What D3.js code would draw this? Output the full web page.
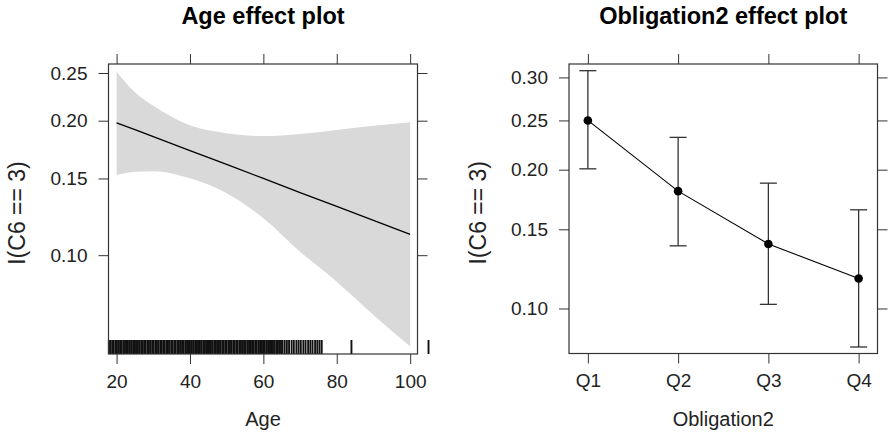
<!DOCTYPE html>
<html>
<head>
<meta charset="utf-8">
<script src="https://cdn.jsdelivr.net/npm/d3@7"></script>
<style>
  body { margin: 0; background: #fff; }
  svg { font-family: "Liberation Sans", Arial, sans-serif; }
</style>
</head>
<body>
<div id="chart"></div>
<script>
// Age effect: fitted probability and 95% band
const ages = [20, 25, 30, 40, 50, 60, 70, 80, 90, 100];
const ageFit = [0.198, 0.1915, 0.1851, 0.1727, 0.1611, 0.150, 0.1395, 0.1298, 0.1205, 0.1119];
const ageUpper = [0.2515, 0.2288, 0.2148, 0.1956, 0.1882, 0.1856, 0.1875, 0.1912, 0.1952, 0.1985];
const ageLower = [0.1527, 0.1552, 0.1556, 0.1501, 0.139, 0.1219, 0.1019, 0.0865, 0.0719, 0.0602];
// observed (jittered) ages for the rug
const rugAges = [
  17.9, 18.3, 18.8, 19.2, 19.7, 20.1, 20.6, 21.0, 21.4, 21.9, 22.3, 22.8, 23.1, 23.6, 24.0,
  24.5, 24.9, 25.3, 25.8, 26.2, 26.7, 27.0, 27.5, 27.9, 28.4, 28.8, 29.2, 29.7, 30.1, 30.6,
  31.0, 31.4, 31.9, 32.2, 32.7, 33.1, 33.6, 34.0, 34.4, 34.9, 35.3, 35.8, 36.1, 36.6, 37.0,
  37.5, 37.9, 38.3, 38.8, 39.2, 39.7, 40.0, 40.5, 40.9, 41.4, 41.8, 42.2, 42.7, 43.1, 43.6,
  44.0, 44.4, 44.9, 45.2, 45.7, 46.1, 46.6, 47.0, 47.4, 47.9, 48.3, 48.8, 49.1, 49.6, 50.0,
  50.5, 50.9, 51.3, 51.8, 52.2, 52.7, 53.0, 53.5, 53.9, 54.4, 54.8, 55.2, 55.7, 56.1, 56.6,
  57.0, 57.4, 57.9, 58.2, 58.7, 59.1, 59.6, 60.0, 60.4, 60.9, 61.3, 61.8, 62.1, 62.6, 63.0,
  63.5, 63.9, 64.3, 64.8, 65.2, 65.8, 66.4, 67.0, 67.7, 68.3, 69.0, 69.6, 70.2, 70.9, 71.5,
  72.2, 72.8, 73.4, 74.1, 74.7, 75.3, 75.9, 84, 105];
const ageTicks = [20, 40, 60, 80, 100];

// Obligation2 effect
const obligCats = ["Q1", "Q2", "Q3", "Q4"];
const obligFit = [0.25, 0.1807, 0.1394, 0.1169];
const obligUpper = [0.3083, 0.2319, 0.1877, 0.1651];
const obligLower = [0.2008, 0.1381, 0.1022, 0.0815];

const leftTicksY = [0.10, 0.15, 0.20, 0.25];
const rightTicksY = [0.10, 0.15, 0.20, 0.25, 0.30];

const width = 889;
const height = 436;
const logit = (p) => Math.log(p / (1 - p));
const fmt = d3.format(".2f");

const svg = d3.select("#chart").append("svg")
  .attr("width", width)
  .attr("height", height);

const tickLen = 10;
const tickCol = "#333";

function styleAxis(g, labels) {
  g.select(".domain").remove();
  g.selectAll(".tick line").attr("stroke", tickCol).attr("stroke-width", 1);
  g.selectAll(".tick text")
    .attr("fill", "#222")
    .style("font-size", "19px")
    .style("font-family", "'Liberation Sans', Arial, sans-serif");
  if (!labels) g.selectAll(".tick text").remove();
}

function frame(box, x, y, xTicks, yTicks, xFmt) {
  svg.append("g").attr("transform", `translate(0,${box.bottom})`)
    .call(d3.axisBottom(x).tickValues(xTicks).tickSize(tickLen).tickPadding(10.5).tickFormat(xFmt))
    .call(styleAxis, true);
  svg.append("g").attr("transform", `translate(0,${box.top})`)
    .call(d3.axisTop(x).tickValues(xTicks).tickSize(tickLen))
    .call(styleAxis, false);
  svg.append("g").attr("transform", `translate(${box.left},0)`)
    .call(d3.axisLeft(y).tickValues(yTicks.map(logit)).tickSize(tickLen).tickPadding(11)
      .tickFormat((v) => fmt(1 / (1 + Math.exp(-v)))))
    .call(styleAxis, true);
  svg.append("g").attr("transform", `translate(${box.right},0)`)
    .call(d3.axisRight(y).tickValues(yTicks.map(logit)).tickSize(tickLen))
    .call(styleAxis, false);
}

function frameBox(box) {
  svg.append("rect")
    .attr("x", box.left).attr("y", box.top)
    .attr("width", box.right - box.left).attr("height", box.bottom - box.top)
    .attr("fill", "none").attr("stroke", tickCol).attr("stroke-width", 1.2);
}

function labels(box, title, xlab) {
  const cx = (box.left + box.right) / 2;
  svg.append("text").attr("x", cx).attr("y", 24)
    .attr("text-anchor", "middle").style("font-size", "23.5px").style("font-weight", "bold")
    .text(title);
  svg.append("text").attr("x", cx).attr("y", 426)
    .attr("text-anchor", "middle").style("font-size", "20px").attr("fill", "#222")
    .text(xlab);
  svg.append("text")
    .attr("transform", `translate(${box.left - 83.5},${(box.top + box.bottom) / 2 + 4}) rotate(-90)`)
    .attr("text-anchor", "middle").style("font-size", "23px")
    .attr("fill", "#222")
    .text("I(C6 == 3)");
}

// ---- left panel: Age ----
const boxA = { left: 108.5, right: 417.5, top: 64, bottom: 354 };
const xA = d3.scaleLinear().domain([17.8, 102.0]).range([boxA.left, boxA.right]);
const yA = d3.scaleLinear().domain([logit(0.0577), logit(0.2603)]).range([boxA.bottom, boxA.top]);

const ageRows = ages.map((a, i) => ({ age: a, fit: ageFit[i], lo: ageLower[i], hi: ageUpper[i] }));

svg.append("path")
  .datum(ageRows)
  .attr("fill", "#d9d9d9")
  .attr("d", d3.area()
    .x((d) => xA(d.age))
    .y0((d) => yA(logit(d.lo)))
    .y1((d) => yA(logit(d.hi)))
    .curve(d3.curveMonotoneX));

svg.append("path")
  .datum(ageRows)
  .attr("fill", "none")
  .attr("stroke", "#000")
  .attr("stroke-width", 1.3)
  .attr("d", d3.line().x((d) => xA(d.age)).y((d) => yA(logit(d.fit))));

svg.append("g")
  .selectAll("line")
  .data(rugAges)
  .join("line")
  .attr("x1", (d) => xA(d)).attr("x2", (d) => xA(d))
  .attr("y1", boxA.bottom - 14).attr("y2", boxA.bottom)
  .attr("stroke", "#111")
  .attr("stroke-width", 1.9);

frame(boxA, xA, yA, ageTicks, leftTicksY, d3.format("d"));
frameBox(boxA);
labels(boxA, "Age effect plot", "Age");

// ---- right panel: Obligation2 ----
const boxB = { left: 569, right: 877.5, top: 64, bottom: 353.5 };
const xB = d3.scalePoint().domain(obligCats).range([boxB.left, boxB.right]).padding(0.209);
const yB = d3.scaleLinear().domain([logit(0.0787), logit(0.3167)]).range([boxB.bottom, boxB.top]);

const obRows = obligCats.map((c, i) => ({ cat: c, fit: obligFit[i], lo: obligLower[i], hi: obligUpper[i] }));

svg.append("path")
  .datum(obRows)
  .attr("fill", "none")
  .attr("stroke", "#000")
  .attr("stroke-width", 1.1)
  .attr("d", d3.line().x((d) => xB(d.cat)).y((d) => yB(logit(d.fit))));

const bars = svg.append("g").attr("stroke", "#333").attr("stroke-width", 1.3);
bars.selectAll(".stem").data(obRows).join("line")
  .attr("x1", (d) => xB(d.cat)).attr("x2", (d) => xB(d.cat))
  .attr("y1", (d) => yB(logit(d.lo))).attr("y2", (d) => yB(logit(d.hi)));
bars.selectAll(".capHi").data(obRows).join("line")
  .attr("x1", (d) => xB(d.cat) - 8.5).attr("x2", (d) => xB(d.cat) + 8.5)
  .attr("y1", (d) => yB(logit(d.hi))).attr("y2", (d) => yB(logit(d.hi)));
bars.selectAll(".capLo").data(obRows).join("line")
  .attr("x1", (d) => xB(d.cat) - 8.5).attr("x2", (d) => xB(d.cat) + 8.5)
  .attr("y1", (d) => yB(logit(d.lo))).attr("y2", (d) => yB(logit(d.lo)));

svg.append("g").selectAll("circle").data(obRows).join("circle")
  .attr("cx", (d) => xB(d.cat))
  .attr("cy", (d) => yB(logit(d.fit)))
  .attr("r", 4.3)
  .attr("fill", "#000");

frame(boxB, xB, yB, obligCats, rightTicksY, (d) => d);
frameBox(boxB);
labels(boxB, "Obligation2 effect plot", "Obligation2");
</script>
</body>
</html>
